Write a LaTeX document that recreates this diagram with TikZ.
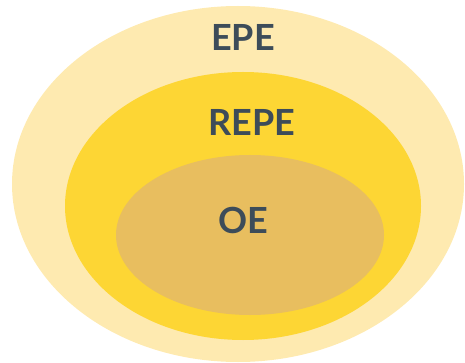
\documentclass[tikz,border=0pt]{standalone}
\usepackage{fontspec}
\setmainfont{Lato}
\usetikzlibrary{calc}
\usetikzlibrary{positioning}
\definecolor{custom-pale}{RGB}{254, 234, 176}
\definecolor{custom-yellow}{RGB}{253, 214, 52}
\definecolor{custom-ochre}{RGB}{232, 190, 95}
\definecolor{custom-slate}{RGB}{61, 76, 89}
\begin{document}
\begin{tikzpicture}[x=1pt, y=-1pt, label/.style={text=custom-slate, font=\fontsize{36}{40}\selectfont\bfseries, inner sep=0pt}]
            \useasboundingbox (0, 0) rectangle (465, 363);
            \fill[custom-pale] (238, 184) ellipse [x radius=226, y radius=178];
            \fill[custom-yellow] (243, 206) ellipse [x radius=178, y radius=134];
            \fill[custom-ochre] (250, 235) ellipse [x radius=134, y radius=80];
            \node[label] (epe) at (243, 37) {EPE};
            \node[label] (repe) at (252, 122) {REPE};
            \node[label] (oe) at (243, 220) {OE};
        \end{tikzpicture}
\end{document}
